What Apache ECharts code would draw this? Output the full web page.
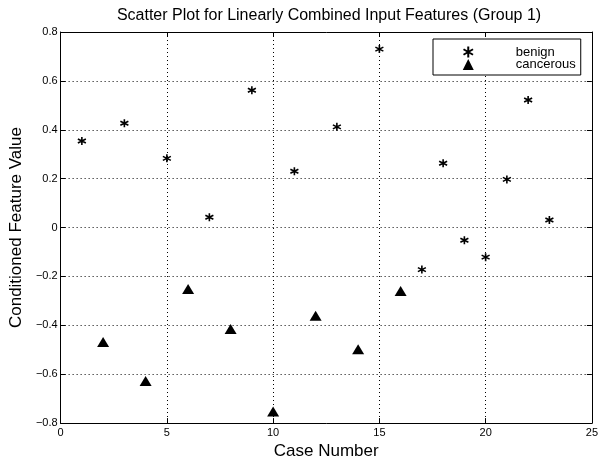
<!DOCTYPE html>
<html>
<head>
<meta charset="utf-8">
<script src="https://cdn.jsdelivr.net/npm/echarts@6/dist/echarts.min.js"></script>
<style>html,body{margin:0;padding:0;background:#fff}#c{width:601px;height:465px}</style>
</head>
<body>
<div id="c"></div>
<script>
const benignX = [1, 3, 5, 7, 9, 11, 13, 15, 17, 18, 19, 20, 21, 22, 23];
const benignY = [0.354, 0.427, 0.283, 0.042, 0.562, 0.230, 0.412, 0.730, -0.172, 0.263, -0.052, -0.121, 0.197, 0.522, 0.031];
const cancerX = [2, 4, 6, 8, 10, 12, 14, 16];
const cancerY = [-0.468, -0.628, -0.251, -0.415, -0.753, -0.361, -0.498, -0.260];
const xTicks = [0, 5, 10, 15, 20, 25];
const yTicks = [-0.8, -0.6, -0.4, -0.2, 0, 0.2, 0.4, 0.6, 0.8];

const FONT = 'Liberation Sans, Arial, Helvetica, sans-serif';
const star = 'path://M0,-5L0,5M-4.33,-2.5L4.33,2.5M-4.33,2.5L4.33,-2.5';

const chart = echarts.init(document.getElementById('c'), null, {renderer: 'canvas'});

function fmtY(v) {
  const r = Math.round(v * 10) / 10;
  if (r === 0) return '0';
  return (r < 0 ? '\u2212' : '') + Math.abs(r).toFixed(1);
}

const common = {
  axisLine: {show: true, onZero: false, lineStyle: {color: '#000', width: 1}},
  axisTick: {show: true, inside: true, length: 5, lineStyle: {color: '#000'}},
};

chart.setOption({
  animation: false,
  backgroundColor: '#fff',
  title: {
    text: 'Scatter Plot for Linearly Combined Input Features (Group 1)',
    left: 324, top: 3, textAlign: 'center',
    textStyle: {fontFamily: FONT, fontSize: 16, fontWeight: 'normal', color: '#000'}
  },
  legend: {
    left: 433, top: 39,
    orient: 'vertical',
    padding: [5, 5, 4, 28],
    itemGap: -2,
    itemWidth: 11, itemHeight: 11,
    borderColor: '#000', borderWidth: 1,
    backgroundColor: '#fff',
    textStyle: {fontFamily: FONT, fontSize: 13, lineHeight: 12, color: '#000', padding: [0, 0, 0, 37]},
    data: ['benign', 'cancerous']
  },
  grid: {left: 54, right: 7, top: 32, bottom: 37},
  xAxis: [{
    type: 'value', min: 0, max: 25, interval: 5, position: 'bottom',
    ...common,
    axisLabel: {fontFamily: FONT, fontSize: 11, color: '#000', margin: 4},
    splitLine: {show: true, lineStyle: {color: '#000', type: [1, 3], width: 1}},
    name: 'Case Number', nameLocation: 'middle', nameGap: 9,
    nameTextStyle: {fontFamily: FONT, fontSize: 17, color: '#000'}
  }, {
    type: 'value', min: 0, max: 25, interval: 5, position: 'top',
    ...common,
    axisLabel: {show: false}, splitLine: {show: false}
  }],
  yAxis: [{
    type: 'value', min: -0.8, max: 0.8, interval: 0.2, position: 'left',
    ...common,
    axisLabel: {fontFamily: FONT, fontSize: 11, color: '#000', margin: 3, formatter: fmtY},
    splitLine: {show: true, lineStyle: {color: '#000', type: [1, 3], width: 1}},
    name: 'Conditioned Feature Value', nameLocation: 'middle', nameGap: 21,
    nameTextStyle: {fontFamily: FONT, fontSize: 17, color: '#000'}
  }, {
    type: 'value', min: -0.8, max: 0.8, interval: 0.2, position: 'right',
    ...common,
    axisLabel: {show: false}, splitLine: {show: false}
  }],
  series: [{
    name: 'benign', type: 'scatter',
    symbol: star, symbolSize: 8,
    itemStyle: {color: 'none', borderColor: '#000', borderWidth: 1.6, opacity: 1},
    data: benignX.map((x, i) => [x, benignY[i]])
  }, {
    name: 'cancerous', type: 'scatter',
    symbol: 'triangle', symbolSize: [12, 10],
    itemStyle: {color: '#000', opacity: 1},
    data: cancerX.map((x, i) => [x, cancerY[i]])
  }]
});
</script>
</body>
</html>
